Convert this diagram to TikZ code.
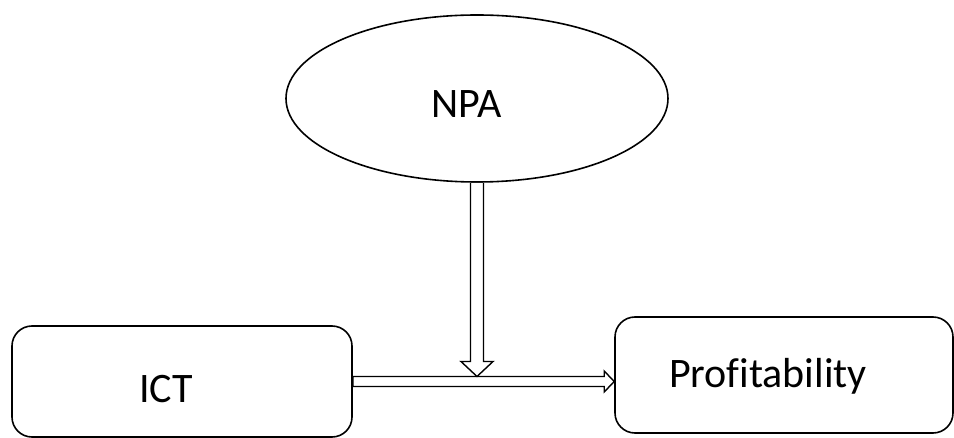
\documentclass[tikz,border=0pt]{standalone}
\usepackage{fontspec}
\setmainfont[Ligatures=NoCommon]{Carlito}
\usetikzlibrary{shapes.geometric,calc}
\begin{document}
\begin{tikzpicture}[x=1pt,y=-1pt,
  box/.style={draw,line width=1.6pt,rounded corners=20pt,inner sep=0pt},
  oval/.style={draw,ellipse,line width=1.6pt,inner sep=0pt},
  lbl/.style={inner sep=0pt,anchor=base,font=\fontsize{42}{50}\selectfont},
  hollow/.style={draw,line width=1.4pt,line join=miter,fill=white}]
\useasboundingbox (0,0) rectangle (954,438);
\node[oval,minimum width=382pt,minimum height=167pt] (npa) at (477,98.5) {};
\node[box,minimum width=340pt,minimum height=111pt] (ict) at (182,381.5) {};
\node[box,minimum width=338pt,minimum height=116pt] (prof) at (784,375) {};
\node[lbl] (npaT) at (466.5,118) {NPA};
\node[lbl] (ictT) at (166,403) {ICT};
\node[lbl] (profT) at (768,388) {Prof\kern0pt itability};
% horizontal hollow arrow ICT -> Profitability
\coordinate (h0) at (ict.east);
\coordinate (h1) at (prof.west |- ict.east);
\draw[hollow] ($(h0)+(0,-5)$) -- ($(h1)+(-10,-5)$) -- ($(h1)+(-10,-10.5)$) -- (h1)
  -- ($(h1)+(-10,10.5)$) -- ($(h1)+(-10,5)$) -- ($(h0)+(0,5)$) -- cycle;
% vertical hollow arrow NPA -> connector
\coordinate (v0) at (npa.south);
\coordinate (v1) at ($(npa.south |- h0)+(0,-5)$);
\draw[hollow] ($(v0)+(-6.5,0)$) -- ($(v1)+(-6.5,-15)$) -- ($(v1)+(-16,-15)$) -- (v1)
  -- ($(v1)+(16,-15)$) -- ($(v1)+(6.5,-15)$) -- ($(v0)+(6.5,0)$);
\end{tikzpicture}
\end{document}
